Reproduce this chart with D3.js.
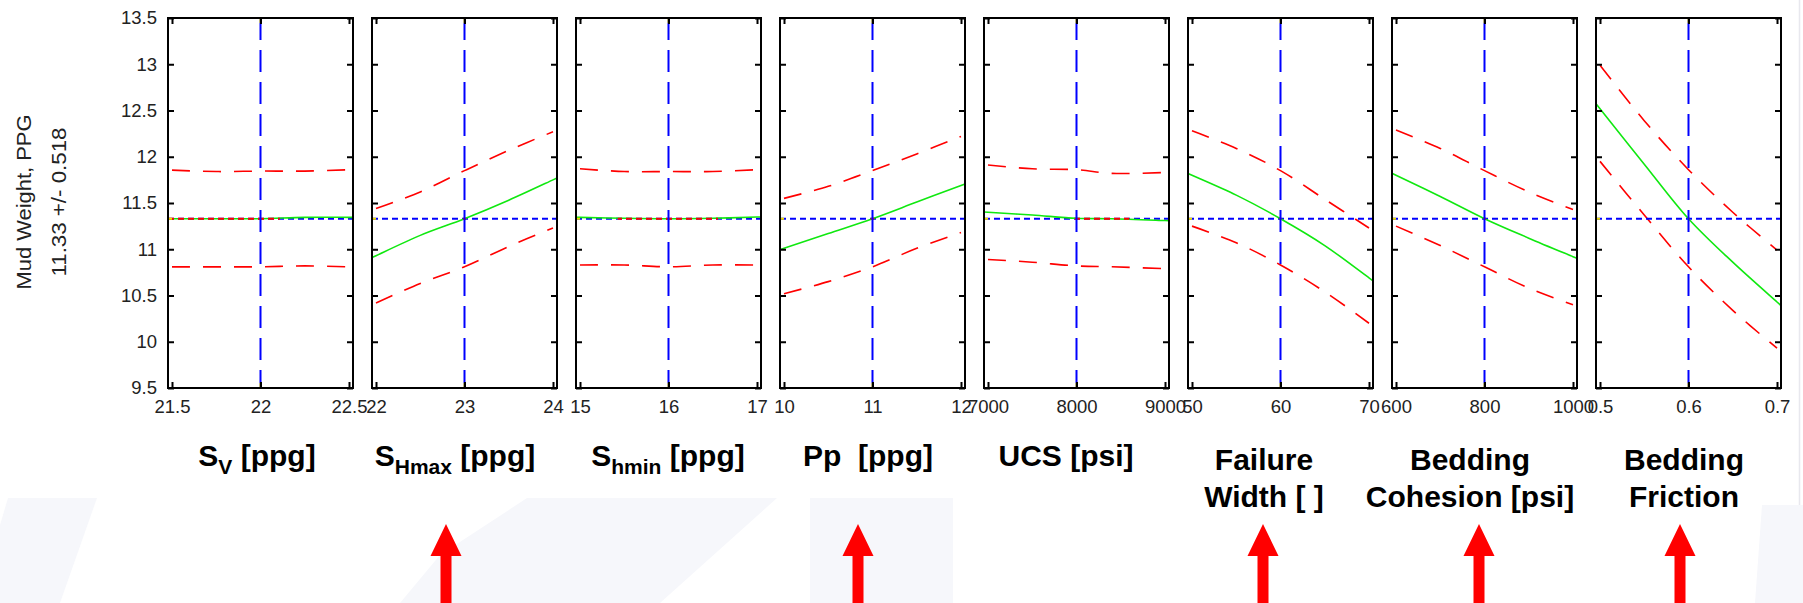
<!DOCTYPE html>
<html>
<head>
<meta charset="utf-8">
<script src="https://cdn.jsdelivr.net/npm/d3@7"></script>
<style>
  body { margin: 0; background: #fff; }
  text { font-family: "Liberation Sans", Arial, sans-serif; }
</style>
</head>
<body>
<script>
// ---- data ----
var predicted = 11.33;
var halfWidth = 0.518;
var yTicks = [9.5, 10, 10.5, 11, 11.5, 12, 12.5, 13, 13.5];

var xTicks = [[21.5, 22, 22.5], [22, 23, 24], [15, 16, 17], [10, 11, 12],
              [7000, 8000, 9000], [50, 60, 70], [600, 800, 1000], [0.5, 0.6, 0.7]];
var centerX = [22, 23, 16, 11, 8000, 60, 800, 0.6];

var sampleX = [
    [21.5, 21.75, 22, 22.25, 22.5],
    [22, 22.5, 23, 23.5, 24],
    [15, 15.5, 16, 16.5, 17],
    [10, 10.5, 11, 11.5, 12],
    [7000, 7500, 8000, 8400, 9000],
    [50, 55, 60, 65, 70],
    [600, 700, 800, 900, 1000],
    [0.5, 0.55, 0.6, 0.65, 0.7]
];
var fitY = [
    [11.33, 11.33, 11.33, 11.345, 11.345],
    [10.93, 11.15, 11.33, 11.53, 11.75],
    [11.345, 11.335, 11.33, 11.335, 11.348],
    [11.01, 11.17, 11.33, 11.51, 11.69],
    [11.40, 11.37, 11.335, 11.33, 11.31],
    [11.80, 11.585, 11.33, 11.04, 10.69],
    [11.80, 11.57, 11.33, 11.12, 10.92],
    [12.52, 11.92, 11.33, 10.86, 10.43]
];
var upperY = [
    [11.855, 11.84, 11.845, 11.845, 11.86],
    [11.44, 11.62, 11.85, 12.07, 12.27],
    [11.87, 11.84, 11.84, 11.84, 11.86],
    [11.55, 11.68, 11.85, 12.03, 12.22],
    [11.91, 11.87, 11.86, 11.82, 11.83],
    [12.28, 12.09, 11.85, 11.54, 11.23],
    [12.29, 12.09, 11.85, 11.62, 11.43],
    [12.99, 12.39, 11.86, 11.40, 10.99]
];
var lowerY = [
    [10.81, 10.81, 10.81, 10.82, 10.81],
    [10.42, 10.63, 10.81, 11.03, 11.23],
    [10.83, 10.83, 10.81, 10.83, 10.83],
    [10.52, 10.65, 10.81, 11.01, 11.18],
    [10.89, 10.86, 10.82, 10.81, 10.79],
    [11.25, 11.07, 10.83, 10.54, 10.20],
    [11.25, 11.04, 10.81, 10.58, 10.40],
    [11.95, 11.37, 10.81, 10.34, 9.93]
];

// factor labels: lines of [text, isSubscript] pieces
var factorLabels = [
    [[["S", 0], ["V", 1], [" [ppg]", 0]]],
    [[["S", 0], ["Hmax", 1], [" [ppg]", 0]]],
    [[["S", 0], ["hmin", 1], [" [ppg]", 0]]],
    [[["Pp  [ppg]", 0]]],
    [[["UCS [psi]", 0]]],
    [[["Failure", 0]], [["Width [ ]", 0]]],
    [[["Bedding", 0]], [["Cohesion [psi]", 0]]],
    [[["Bedding", 0]], [["Friction", 0]]]
];
var arrowPanels = [1, 3, 5, 6, 7];

// ---- layout ----
var panelLeft0 = 168, panelStep = 204, panelW = 185;
var plotTop = 18, plotBottom = 388;
var tickInset = 4, tickInsetR = 4;
var labelDx = [-3.5, -9.5, -0.5, -4.5, -10.5, -16.5, -14.5, -4.5];
var arrowDx = [-18.5, -14.5, -17.5, -5.5, -8.5];

var svg = d3.select("body").append("svg")
    .attr("width", 1803)
    .attr("height", 603);

// faint slide background shapes
var bgShapes = [
    [[8, 498], [97, 498], [60, 603], [0, 603], [0, 525]],
    [[527, 498], [777, 498], [660, 603], [400, 603], [440, 555]],
    [[810, 498], [953, 498], [953, 603], [810, 603]],
    [[1762, 505], [1803, 505], [1803, 603], [1755, 603]]
];
svg.selectAll("polygon.bg")
    .data(bgShapes)
    .enter()
    .append("polygon")
    .attr("class", "bg")
    .attr("points", function (d) { return d.map(function (p) { return p.join(","); }).join(" "); })
    .style("fill", "#f6f7fb");

svg.append("line")
    .attr("x1", 1799.5).attr("x2", 1799.5)
    .attr("y1", 0).attr("y2", 505)
    .style("stroke", "#e8e8ee")
    .style("stroke-width", 1.5);

var y = d3.scaleLinear().domain([9.5, 13.5]).range([plotBottom, plotTop]);

sampleX.forEach(function (xsData, i) {
    var left = panelLeft0 + i * panelStep;
    var g = svg.append("g").attr("transform", "translate(" + left + ",0)");

    var ticks = xTicks[i];
    var x = d3.scaleLinear()
        .domain([ticks[0], ticks[ticks.length - 1]])
        .range([tickInset, panelW - tickInsetR]);

    var line = d3.line()
        .x(function (d) { return d[0]; })
        .y(function (d) { return d[1]; })
        .curve(d3.curveCatmullRom.alpha(0.5));

    function toPts(vals) {
        return xsData.map(function (xv, k) { return [x(xv), y(vals[k])]; });
    }

    // confidence bounds
    [upperY[i], lowerY[i]].forEach(function (vals) {
        g.append("path")
            .attr("d", line(toPts(vals)))
            .style("fill", "none")
            .style("stroke", "#ff0000")
            .style("stroke-width", 1.6)
            .style("stroke-dasharray", "18,13");
    });

    var yPred = y(predicted);

    // horizontal reference (dotted)
    g.append("line")
        .attr("x1", 0).attr("x2", panelW)
        .attr("y1", yPred).attr("y2", yPred)
        .style("stroke", "#0000ff")
        .style("stroke-width", 2)
        .style("stroke-dasharray", "6,4");

    // fitted curve, stretched to the axes limits
    var pts = toPts(fitY[i]);
    var n = pts.length;
    var s0 = (pts[1][1] - pts[0][1]) / (pts[1][0] - pts[0][0]);
    var s1 = (pts[n - 1][1] - pts[n - 2][1]) / (pts[n - 1][0] - pts[n - 2][0]);
    var full = [[0, pts[0][1] - s0 * pts[0][0]]].concat(pts)
        .concat([[panelW, pts[n - 1][1] + s1 * (panelW - pts[n - 1][0])]]);
    g.append("path")
        .attr("d", line(full))
        .style("fill", "none")
        .style("stroke", "#10e810")
        .style("stroke-width", 1.6);

    // where the fit sits on the reference line, the dotted line shows red
    var runs = [], start = null;
    for (var px = 0; px <= panelW; px += 0.25) {
        var k = 0;
        while (k < full.length - 2 && full[k + 1][0] < px) k++;
        var a = full[k], b = full[k + 1];
        var v = a[1] + (b[1] - a[1]) * (px - a[0]) / (b[0] - a[0]);
        var near = Math.abs(v - yPred) < 0.6;
        if (near && start === null) start = px;
        if ((!near || px + 0.25 > panelW) && start !== null) { runs.push([start, px]); start = null; }
    }
    runs.forEach(function (r) {
        g.append("line")
            .attr("x1", r[0]).attr("x2", Math.max(r[1], r[0] + 1.5))
            .attr("y1", yPred).attr("y2", yPred)
            .style("stroke", "#ff0000")
            .style("stroke-width", 2)
            .style("stroke-dasharray", "6,4")
            .style("stroke-dashoffset", r[0]);
    });

    // vertical reference (dashed)
    var cx = x(centerX[i]);
    g.append("line")
        .attr("x1", cx).attr("x2", cx)
        .attr("y1", plotTop).attr("y2", plotBottom)
        .style("stroke", "#0000ff")
        .style("stroke-width", 2)
        .style("stroke-dasharray", "22,10");

    // small yellow end marks
    [[cx - 1, plotTop + 1, 2, 4], [cx - 1, plotBottom - 5, 2, 4], [1, yPred - 1, 3, 2]].forEach(function (r) {
        g.append("rect")
            .attr("x", r[0]).attr("y", r[1])
            .attr("width", r[2]).attr("height", r[3])
            .style("fill", "#f0e000");
    });

    // axes
    var yLeft = d3.axisLeft(y).tickValues(yTicks).tickSize(-6).tickPadding(11)
        .tickFormat(i === 0 ? function (d) { return String(d); } : "");
    var yRight = d3.axisRight(y).tickValues(yTicks).tickSize(-6).tickFormat("");
    var xBottom = d3.axisBottom(x).tickValues(ticks).tickSize(-6).tickPadding(12)
        .tickFormat(function (d) { return String(d); });
    var xTop = d3.axisTop(x).tickValues(ticks).tickSize(-6).tickFormat("");

    var ax = [
        g.append("g").call(yLeft),
        g.append("g").attr("transform", "translate(" + panelW + ",0)").call(yRight),
        g.append("g").attr("transform", "translate(0," + plotBottom + ")").call(xBottom),
        g.append("g").attr("transform", "translate(0," + plotTop + ")").call(xTop)
    ];
    ax.forEach(function (a) {
        a.select(".domain").remove();
        a.selectAll("line").style("stroke", "#000").style("stroke-width", 2);
        a.selectAll("text")
            .style("font-family", "'Liberation Sans', Arial, sans-serif")
            .style("font-size", "18.5px")
            .style("fill", "#222");
    });

    g.append("rect")
        .attr("x", 0).attr("y", plotTop)
        .attr("width", panelW).attr("height", plotBottom - plotTop)
        .style("fill", "none")
        .style("stroke", "#000")
        .style("stroke-width", 2);

    // factor label
    var lines = factorLabels[i];
    var baseY = lines.length === 1 ? [466] : [470, 507];
    lines.forEach(function (pieces, li) {
        var t = svg.append("text")
            .attr("x", left + panelW / 2 + labelDx[i])
            .attr("y", baseY[li])
            .attr("text-anchor", "middle")
            .style("font-size", "30px")
            .style("font-weight", "bold")
            .style("white-space", "pre")
            .style("fill", "#000");
        var shifted = 0;
        pieces.forEach(function (pc) {
            var sp = t.append("tspan").text(pc[0]);
            if (pc[1]) {
                sp.attr("dy", 8).style("font-size", "21px");
                shifted = 8;
            } else if (shifted) {
                sp.attr("dy", -shifted);
                shifted = 0;
            }
        });
    });
});

// y-axis title
svg.append("text")
    .attr("transform", "translate(31,202) rotate(-90)")
    .attr("text-anchor", "middle")
    .attr("textLength", 175)
    .attr("lengthAdjust", "spacingAndGlyphs")
    .style("font-size", "20px")
    .style("fill", "#222")
    .text("Mud Weight, PPG");

svg.append("text")
    .attr("transform", "translate(66,202) rotate(-90)")
    .attr("text-anchor", "middle")
    .attr("textLength", 149)
    .attr("lengthAdjust", "spacingAndGlyphs")
    .style("font-size", "20px")
    .style("fill", "#222")
    .text("11.33 +/- 0.518");

// red arrows under the influential factors
svg.selectAll("polygon.arrow")
    .data(arrowPanels)
    .enter()
    .append("polygon")
    .attr("class", "arrow")
    .attr("points", function (p, k) {
        var c = panelLeft0 + p * panelStep + panelW / 2 + arrowDx[k];
        return [[c, 524], [c + 15.5, 556], [c + 5.5, 556], [c + 5.5, 604],
                [c - 5.5, 604], [c - 5.5, 556], [c - 15.5, 556]].join(" ");
    })
    .style("fill", "#ff0000");
</script>
</body>
</html>
